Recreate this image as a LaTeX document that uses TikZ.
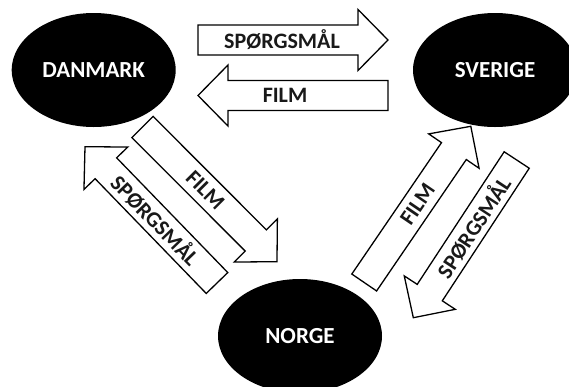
\documentclass[tikz,border=0pt]{standalone}
\usepackage{fontspec}
\setmainfont{Carlito}
\usetikzlibrary{shapes.geometric}

\tikzset{
  country/.style={ellipse, fill=black, minimum width=164pt, minimum height=114pt,
    inner sep=0pt, text=white, font=\fontsize{23}{27}\selectfont\bfseries},
  arrowbody/.style={draw=black, fill=white, line width=1.3pt, line join=miter},
  arrowtext/.style={font=\fontsize{22}{26}\selectfont\bfseries, inner sep=0pt, text=black!90},
}

% Block arrow from coordinate #1 (tail) to coordinate #2 (tip),
% labelled #3, with the label placed #4 pt from the tail.
\newcommand\blockarrow[4]{%
  \path (#1); \pgfgetlastxy{\bax}{\bay}%
  \path (#2); \pgfgetlastxy{\bbx}{\bby}%
  \pgfmathsetmacro\bang{atan2(\bby-\bay,\bbx-\bax)}%
  \pgfmathsetmacro\blen{veclen(\bbx-\bax,\bby-\bay)}%
  \pgfmathsetmacro\btrot{abs(\bang)>90 ? \bang+180 : \bang}%
  \begin{scope}[shift={(#1)}, rotate=\bang, x=1pt, y=1pt]
    \draw[arrowbody] (0,-15) -- ({\blen-30},-15) -- ({\blen-30},-30.5) -- (\blen,0)
      -- ({\blen-30},30.5) -- ({\blen-30},15) -- (0,15) -- cycle;
    \node[arrowtext, rotate=\btrot] at (#4,0) {#3};
  \end{scope}%
}

\begin{document}
\begin{tikzpicture}[x=1pt, y=-1pt]
  \useasboundingbox (0,0) rectangle (569,386);
  \fill[white] (0,0) rectangle (569,386);

  % countries
  \node[country] (dk) at (93.7,70) {DANMARK};
  \node[country] (se) at (495,70) {SVERIGE};
  \node[country] (no) at (300,336) {NORGE};

  % arrow end points
  \coordinate (dkse-tail) at (198,40);    \coordinate (dkse-tip) at (388,40);
  \coordinate (sedk-tail) at (388,95.5);  \coordinate (sedk-tip) at (198,95.5);
  \coordinate (dkno-tail) at (142.5,127); \coordinate (dkno-tip) at (277,261.7);
  \coordinate (nodk-tail) at (217,283);   \coordinate (nodk-tip) at (85,146.7);
  \coordinate (nose-tail) at (364.2,282.5); \coordinate (nose-tip) at (470.8,126.3);
  \coordinate (seno-tail) at (516.7,160); \coordinate (seno-tip) at (413.3,317.7);

  \blockarrow{dkse-tail}{dkse-tip}{SPØRGSMÅL}{84}
  \blockarrow{sedk-tail}{sedk-tip}{FILM}{103}
  \blockarrow{dkno-tail}{dkno-tip}{FILM}{89}
  \blockarrow{nodk-tail}{nodk-tip}{SPØRGSMÅL}{88}
  \blockarrow{nose-tail}{nose-tip}{FILM}{94.5}
  \blockarrow{seno-tail}{seno-tip}{SPØRGSMÅL}{80}
\end{tikzpicture}
\end{document}
